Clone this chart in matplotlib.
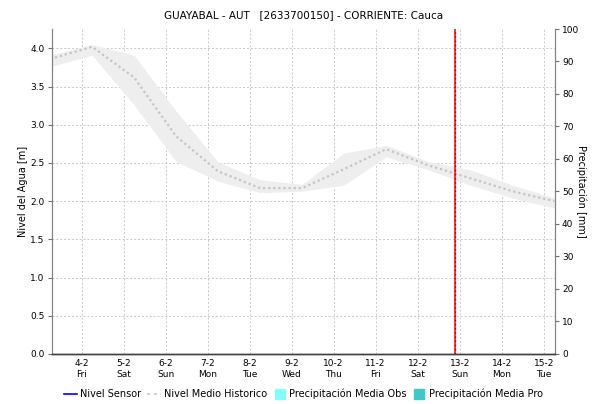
import matplotlib
matplotlib.use("Agg")
import matplotlib.pyplot as plt
from matplotlib.lines import Line2D

# ---- data ----
title = "GUAYABAL - AUT   [2633700150] - CORRIENTE: Cauca"
day_ticks = [4, 5, 6, 7, 8, 9, 10, 11, 12, 13, 14, 15]
day_names = ["Fri", "Sat", "Sun", "Mon", "Tue", "Wed", "Thu", "Fri", "Sat", "Sun", "Mon", "Tue"]
tick_labels = [f"{d}-2\n{n}" for d, n in zip(day_ticks, day_names)]

hist_time = [3.25, 4.25, 5.25, 6.25, 7.25, 8.25, 9.25, 10.25, 11.25, 12.25, 13.25, 14.25, 15.25]
hist_mean = [3.86, 4.02, 3.62, 2.85, 2.39, 2.17, 2.17, 2.42, 2.68, 2.47, 2.30, 2.13, 2.00]
hist_max = [3.91, 4.05, 3.91, 3.18, 2.51, 2.28, 2.22, 2.63, 2.73, 2.52, 2.41, 2.21, 2.04]
hist_min = [3.76, 3.91, 3.26, 2.52, 2.26, 2.11, 2.13, 2.21, 2.58, 2.41, 2.21, 2.04, 1.91]

now_time = 12.9
x_range = (3.29, 15.27)
level_range = (0, 4.253)
precip_range = (0, 100)

# ---- figure ----
plt.rcParams['font.family'] = ['DejaVu Sans']
fig = plt.figure(figsize=(5.95, 4.04), dpi=100)
ax = fig.add_axes([0.0869, 0.124, 0.8459, 0.8042])
ax2 = ax.twinx()

grid_c = "#c8c8c8"
ax.set_xlim(*x_range)
ax.set_ylim(*level_range)
ax2.set_ylim(*precip_range)

ax.fill_between(hist_time, hist_min, hist_max, color="#eeeeee", lw=0, zorder=1)
ax.plot(hist_time, hist_mean, color="#c4c4c4", lw=1.6, ls=(0, (1.0, 1.3)), zorder=2)

ax.axvline(now_time, color="#ff2020", lw=1.3, zorder=4)
ax.axvline(now_time, color="#8b1010", lw=1.0, ls=(0, (1, 2)), zorder=5)

ax.set_xticks(day_ticks)
ax.set_xticklabels(tick_labels, fontsize=6.5, linespacing=1.25)
ax.tick_params(axis='x', length=0, pad=4)
ax.set_yticks([0, 0.5, 1, 1.5, 2, 2.5, 3, 3.5, 4])
ax.set_yticklabels([f"{v:.1f}" for v in [0, 0.5, 1, 1.5, 2, 2.5, 3, 3.5, 4]], fontsize=6.5)
ax.tick_params(axis='y', length=3, width=0.8, color="#707070", pad=2)
ax2.set_yticks(range(0, 101, 10))
ax2.tick_params(axis='y', length=3, width=0.8, color="#707070", pad=2, labelsize=6.5)

ax.grid(True, color=grid_c, ls=(0, (2, 2)), lw=0.7)
ax.set_axisbelow(True)

for a in (ax, ax2):
    a.spines['top'].set_visible(False)
    a.spines['left'].set_color("#808080")
    a.spines['right'].set_color("#808080")
    a.spines['bottom'].set_color("#404040")
    a.spines['bottom'].set_linestyle((0, (1, 1)))
    a.spines['bottom'].set_linewidth(1.0)

ax.set_ylabel("Nivel del Agua [m]", fontsize=7, labelpad=2)
ax2.set_ylabel("Precipitación [mm]", fontsize=7, rotation=-90, labelpad=5, va='top')
ax.set_title(title, fontsize=7.5, pad=8)

handles = [
    Line2D([], [], color="#0000ff", lw=1.2),
    Line2D([], [], color="#c8c8c8", lw=1.2, ls=(0, (2, 2))),
    Line2D([], [], marker='s', ls='none', markersize=7, color="#80ffff"),
    Line2D([], [], marker='s', ls='none', markersize=7, color="#40c8c8"),
]
labels = ["Nivel Sensor", "Nivel Medio Historico", "Precipitación Media Obs", "Precipitación Media Pro"]
fig.legend(handles, labels, loc='lower center', bbox_to_anchor=(0.51, -0.01), ncol=4,
           frameon=False, fontsize=7, handlelength=1.4, handletextpad=0.3, columnspacing=0.6)

fig.savefig("out.png", dpi=100)
